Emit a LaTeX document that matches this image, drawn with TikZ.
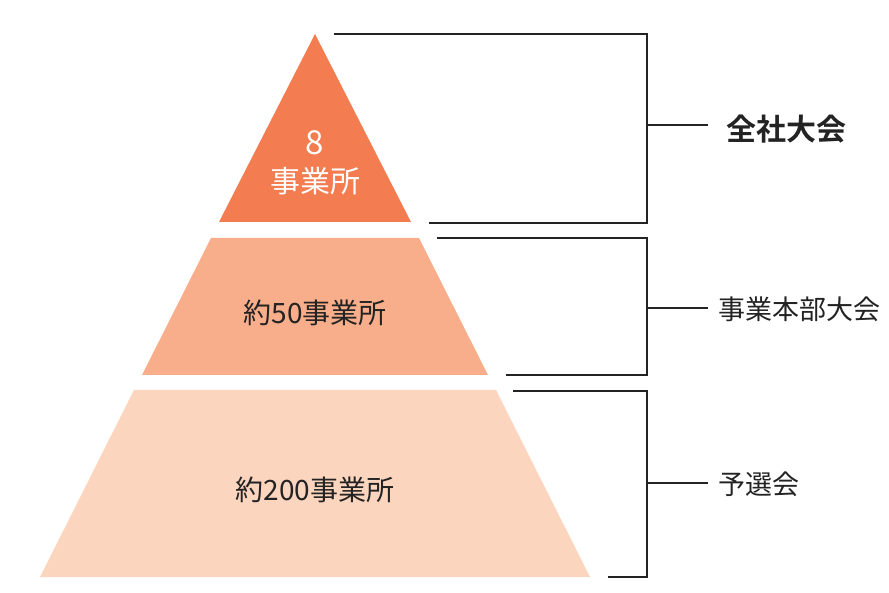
\documentclass[tikz,border=0pt]{standalone}
\usepackage{fontspec}
\setmainfont{Noto Sans CJK JP}
\newfontfamily\jpbold{Noto Sans CJK JP Bold}
\definecolor{tierA}{RGB}{243,124,80}
\definecolor{tierB}{RGB}{248,174,138}
\definecolor{tierC}{RGB}{252,213,190}
\definecolor{lineC}{RGB}{35,35,35}
\tikzset{
  bracket/.style={draw=lineC, line width=1.2pt},
  lbl/.style={anchor=west, inner sep=0pt, text=lineC, font=\fontsize{27}{27}\selectfont},
  tiertext/.style={align=center, inner sep=0pt, font=\fontsize{28}{30}\selectfont}
}
\begin{document}
\begin{tikzpicture}[x=1pt,y=-1pt]
\useasboundingbox (0,0) rectangle (889,593);
% pyramid tiers
\fill[tierA] (315,34) -- (411,222) -- (219,222) -- cycle;
\fill[tierB] (211,238) -- (419,238) -- (488,375) -- (142,375) -- cycle;
\fill[tierC] (134,390) -- (496,390) -- (590,577) -- (40,577) -- cycle;
% tier texts
\node[tiertext, text=white, font=\fontsize{30}{38}\selectfont] (t1) at (315,163) {{\fontsize{33}{38}\selectfont 8}\\事業所};
\node[tiertext, text=lineC] (t2) at (315,313) {約50事業所};
\node[tiertext, text=lineC] (t3) at (315,490) {約200事業所};
% labels
\node[lbl, font=\jpbold\fontsize{30}{30}\selectfont] (l1) at (726,129) {全社大会};
\node[lbl] (l2) at (718,309) {事業本部大会};
\node[lbl] (l3) at (718,484) {予選会};
% bracket coordinates
\coordinate (b1a) at (334,34);  \coordinate (b1b) at (647,34);
\coordinate (b1c) at (647,223); \coordinate (b1d) at (429,223);
\coordinate (b1m) at (647,125); \coordinate (b1t) at (708,125);
\coordinate (b2a) at (437,238); \coordinate (b2b) at (647,238);
\coordinate (b2c) at (647,375); \coordinate (b2d) at (506,375);
\coordinate (b2m) at (647,308); \coordinate (b2t) at (708,308);
\coordinate (b3a) at (513,391); \coordinate (b3b) at (647,391);
\coordinate (b3c) at (647,577); \coordinate (b3d) at (608,577);
\coordinate (b3m) at (647,483); \coordinate (b3t) at (708,483);
% brackets
\draw[bracket] (b1a) -- (b1b) -- (b1c) -- (b1d);
\draw[bracket] (b1m) -- (b1t);
\draw[bracket] (b2a) -- (b2b) -- (b2c) -- (b2d);
\draw[bracket] (b2m) -- (b2t);
\draw[bracket] (b3a) -- (b3b) -- (b3c) -- (b3d);
\draw[bracket] (b3m) -- (b3t);
\end{tikzpicture}
\end{document}
